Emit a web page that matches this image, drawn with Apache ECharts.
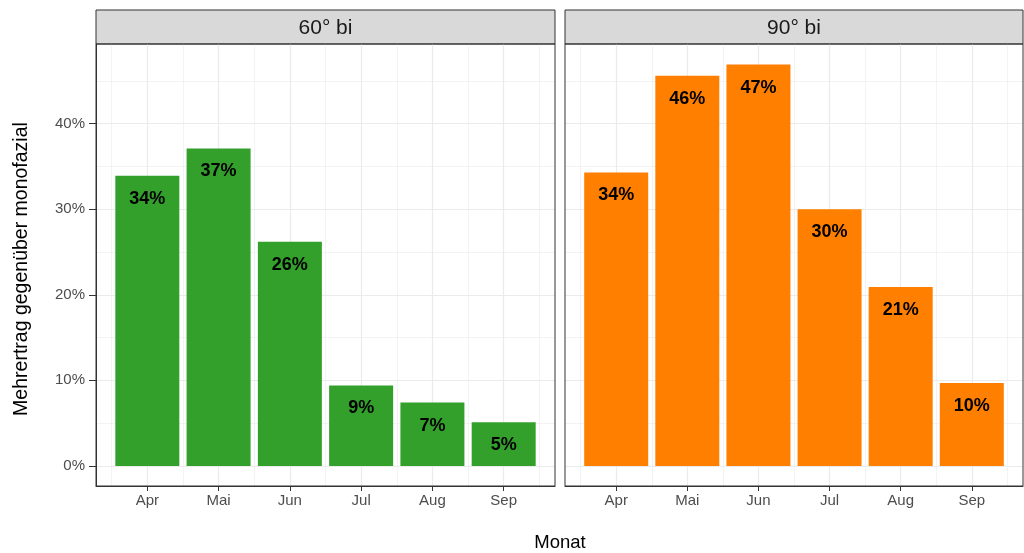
<!DOCTYPE html>
<html>
<head>
<meta charset="utf-8">
<script src="https://cdn.jsdelivr.net/npm/echarts@6/dist/echarts.min.js"></script>
<style>
html,body{margin:0;padding:0;background:#fff;}
#chart{width:1024px;height:553px;}
</style>
</head>
<body>
<div id="chart"></div>
<script>
// ---- data ----
const months = ['Apr', 'Mai', 'Jun', 'Jul', 'Aug', 'Sep'];
const facets = ['60° bi', '90° bi'];
const bi60 = [33.9, 37.1, 26.2, 9.4, 7.4, 5.1];
const bi90 = [34.3, 45.6, 46.9, 30.0, 20.9, 9.7];
const yTicks = [0, 10, 20, 30, 40];
const yMinor = [5, 15, 25, 35, 45];
const xTicks = [0, 1, 2, 3, 4, 5];
const xMinor = [-0.5, 0.5, 1.5, 2.5, 3.5, 4.5, 5.5];
const yTitle = 'Mehrertrag gegenüber monofazial';
const xTitle = 'Monat';

// ---- layout / style ----
const FONT = '"Liberation Sans", Arial, sans-serif';
const panels = [{left: 96, width: 459, color: '#33a02c', values: bi60},
                {left: 565, width: 458, color: '#ff7f00', values: bi90}];
const TOP = 44, HEIGHT = 442, STRIP_TOP = 10, STRIP_H = 34;
const X_MIN = -0.72, X_MAX = 5.72, Y_MIN = -2.345, Y_MAX = 49.3;

const grids = [], xAxes = [], yAxes = [], series = [], graphics = [];

panels.forEach((p, i) => {
  grids.push({left: p.left, top: TOP, width: p.width, height: HEIGHT, show: true, z: 2,
    backgroundColor: 'rgba(0,0,0,0)', borderColor: '#333333', borderWidth: 1, containLabel: false});
  xAxes.push({type: 'value', gridIndex: i, min: X_MIN, max: X_MAX, position: 'bottom', z: 2,
    axisLine: {show: true, onZero: false, lineStyle: {color: '#333333', width: 1}},
    splitLine: {show: false},
    axisTick: {show: true, inside: false, customValues: xTicks, length: 5, lineStyle: {color: '#333333', width: 1}},
    axisLabel: {show: true, customValues: xTicks, margin: 7, color: '#4d4d4d', fontSize: 15, fontFamily: FONT,
      formatter: v => months[Math.round(v)]}
  });
  yAxes.push({type: 'value', gridIndex: i, min: Y_MIN, max: Y_MAX, position: 'left', show: i === 0, z: 2,
    axisLine: {show: true, onZero: false, lineStyle: {color: '#333333', width: 1}},
    splitLine: {show: false},
    axisTick: {show: true, inside: false, customValues: yTicks, length: 7, lineStyle: {color: '#333333', width: 1}},
    axisLabel: {show: true, customValues: yTicks, margin: 11, color: '#4d4d4d', fontSize: 15, fontFamily: FONT,
      formatter: v => v + '%'}
  });
  const gridData = []
    .concat(yMinor.map(v => ({yAxis: v, lineStyle: {width: 0.6}})))
    .concat(xMinor.map(v => ({xAxis: v, lineStyle: {width: 0.6}})))
    .concat(yTicks.map(v => ({yAxis: v, lineStyle: {width: 1.2}})))
    .concat(xTicks.map(v => ({xAxis: v, lineStyle: {width: 1.2}})));
  series.push({type: 'line', xAxisIndex: i, yAxisIndex: i, data: [], z: 1, silent: true,
    markLine: {silent: true, symbol: ['none', 'none'], z: 1, animation: false,
      label: {show: false}, emphasis: {disabled: true},
      lineStyle: {color: '#ebebeb', type: 'solid'}, data: gridData}
  });
  series.push({type: 'bar', xAxisIndex: i, yAxisIndex: i, z: 3, barWidth: 64,
    itemStyle: {color: p.color},
    label: {show: true, position: 'insideTop', distance: 14, color: '#000', fontWeight: 'bold',
      fontSize: 18, fontFamily: FONT, formatter: d => Math.round(d.value[1]) + '%'},
    data: p.values.map((v, k) => [xTicks[k], v])
  });
  graphics.push({type: 'rect', shape: {x: p.left, y: STRIP_TOP, width: p.width, height: STRIP_H},
    style: {fill: '#d9d9d9', stroke: '#333333', lineWidth: 1}});
  graphics.push({type: 'text', x: p.left + p.width / 2, y: STRIP_TOP + STRIP_H / 2 + 1,
    style: {text: facets[i], align: 'center', verticalAlign: 'middle', fontSize: 21, fontFamily: FONT, fill: '#1a1a1a'}});
});

graphics.push({type: 'text', x: 22, y: 269, rotation: Math.PI / 2,
  style: {text: yTitle, align: 'center', verticalAlign: 'middle', fontSize: 19.5, fontFamily: FONT, fill: '#000'}});
graphics.push({type: 'text', x: 560, y: 543,
  style: {text: xTitle, align: 'center', verticalAlign: 'middle', fontSize: 18.5, fontFamily: FONT, fill: '#000'}});

const chart = echarts.init(document.getElementById('chart'), null, {renderer: 'canvas'});
chart.setOption({
  animation: false,
  backgroundColor: '#ffffff',
  grid: grids, xAxis: xAxes, yAxis: yAxes, series: series,
  graphic: graphics
});
</script>
</body>
</html>
